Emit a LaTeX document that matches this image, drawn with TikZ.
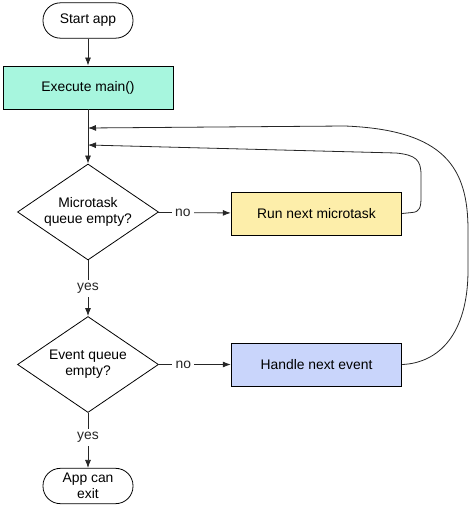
\documentclass[tikz,border=0pt]{standalone}
\usepackage{fontspec}
\setmainfont{Liberation Sans}
\usetikzlibrary{arrows,arrows.meta,shapes}
\usetikzlibrary{positioning}
\definecolor{mintgreen}{RGB}{167,246,222}
\definecolor{paleyellow}{RGB}{253,238,170}
\definecolor{paleblue}{RGB}{201,213,251}
\tikzstyle{terminal}=[rectangle,draw,rounded corners=13pt,minimum width=67.5pt,minimum height=26.5pt,inner sep=1pt,align=center]
\tikzstyle{process}=[rectangle,draw,minimum width=128pt,minimum height=32.25pt,inner sep=0pt]
\tikzstyle{decision}=[diamond,draw,aspect=1.47,minimum width=105.75pt,minimum height=72pt,inner sep=0pt,align=center]
\tikzstyle{edge} = [draw,black!85,line width=0.6pt,-{Latex[length=6pt,width=4.5pt]}]
\tikzstyle{loopedge} = [draw,black!85,line width=0.6pt,-{Latex[length=6pt,width=4.5pt]}]
\tikzstyle{answer} = [fill=white,inner sep=2.5pt]

\begin{document}
\begin{tikzpicture}[x=0.75pt,y=-0.75pt,font=\fontsize{10.4}{12}\selectfont,line width=0.6pt]
\useasboundingbox (0,0) rectangle (471,506);

    % Start and end of the loop
    \foreach \pos/\name/\label in {{(88,20.5)/start/Start app}, {(88,486)/exit/App can\\exit}}
        \node[terminal] (\name) at \pos {\label};

    % The boxes
    \node[process, fill=mintgreen, minimum width=127.5pt] (main) at (88,87.5) {Execute main()};
    \foreach \pos/\name/\colour/\label in {{(316.5,213.5)/rnm/paleyellow/Run next microtask}, {(316.5,364.5)/hne/paleblue/Handle next event}}
        \node[process, fill=\colour] (\name) at \pos {\label};

    % The two questions
    \foreach \pos/\name/\label in {{(88,212)/micro/Microtask\\queue empty?}, {(88,364.5)/event/Event queue\\empty?}}
        \node[decision] (\name) at \pos {\label};

    % Connect them
    \path[edge] (start) -- (main);
    \path[edge] (main) -- (micro);
    \foreach \source/ \dest /\answer/\where in {micro/event/yes/0.5, event/exit/yes/0.45, micro/rnm/no/0.34, event/hne/no/0.34}
          \path[edge] (\source) -- node[answer, pos=\where] {\answer} (\dest);

    % Back to the top
    \coordinate (backA) at (88,128);
    \coordinate (backB) at (88,145);
    \path[loopedge] (rnm.east) -- (412,212.5) .. controls (420,212) and (421,207) .. (421,197) -- (421,175)
          .. controls (421,160) and (416,155) .. (396,153) -- (backB);
    \path[loopedge] (hne.east) .. controls (438,363) and (468,335) .. (468,270) -- (468,230)
          .. controls (468,168) and (445,130) .. (345,126) -- (backA);

\end{tikzpicture}
\end{document}
